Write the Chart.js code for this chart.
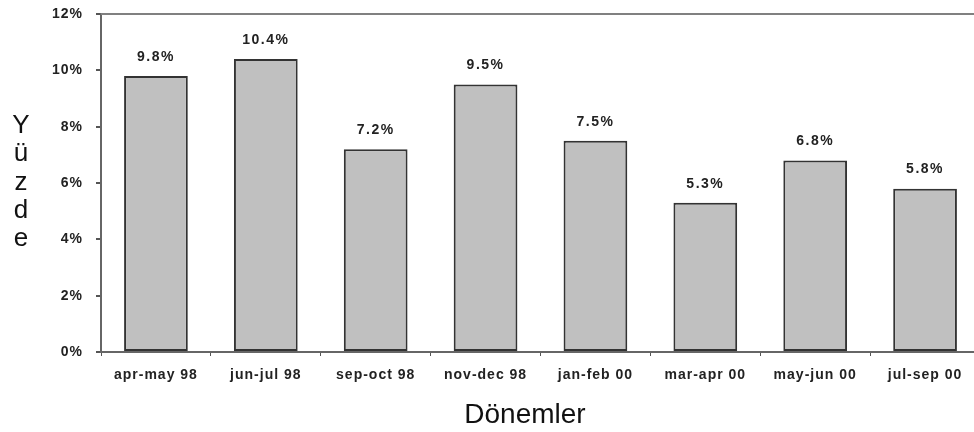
<!DOCTYPE html>
<html>
<head>
<meta charset="utf-8">
<script src="https://cdn.jsdelivr.net/npm/chart.js@4/dist/chart.umd.min.js"></script>
<style>
  html, body { margin: 0; padding: 0; background: #fff; overflow: hidden; }
  #wrap { position: relative; width: 1000px; height: 432px; }
</style>
</head>
<body>
<div id="wrap"><canvas id="donemChart"></canvas></div>
<script>
// Periods and their percentages
const periods = ["apr-may 98", "jun-jul 98", "sep-oct 98", "nov-dec 98", "jan-feb 00", "mar-apr 00", "may-jun 00", "jul-sep 00"];
const percentages = [9.8, 10.4, 7.2, 9.5, 7.5, 5.3, 6.8, 5.8];
const yTicks = [0, 2, 4, 6, 8, 10, 12];
const yTitle = "Yüzde";
const xTitle = "Dönemler";

const FONT = "Arial, 'Liberation Sans', sans-serif";

// slightly wider letter spacing for the tick labels
const spacingPlugin = {
  id: "spacingPlugin",
  beforeDraw(chart) { chart.ctx.letterSpacing = "1px"; }
};

// top edge of the plot frame
const framePlugin = {
  id: "framePlugin",
  beforeDatasetsDraw(chart) {
    const { ctx, chartArea } = chart;
    ctx.save();
    ctx.strokeStyle = "#808080";
    ctx.lineWidth = 2;
    ctx.beginPath();
    ctx.moveTo(chartArea.left, chartArea.top);
    ctx.lineTo(chartArea.right, chartArea.top);
    ctx.stroke();
    ctx.restore();
  }
};

// value labels above each bar + the two axis titles
const labelPlugin = {
  id: "labelPlugin",
  afterDatasetsDraw(chart) {
    const ctx = chart.ctx;
    const meta = chart.getDatasetMeta(0);
    ctx.save();
    ctx.letterSpacing = "1.5px";
    ctx.fillStyle = "#222";
    ctx.font = "bold 14px " + FONT;
    ctx.textAlign = "center";
    ctx.textBaseline = "middle";
    meta.data.forEach((bar, i) => {
      ctx.fillText(percentages[i].toFixed(1) + "%", bar.x, bar.y - 19);
    });

    // vertical stacked y title
    ctx.letterSpacing = "0px";
    ctx.font = "26px " + FONT;
    ctx.fillStyle = "#111";
    ctx.textBaseline = "alphabetic";
    Array.from(yTitle).forEach((ch, i) => {
      ctx.fillText(ch, 21, 133 + i * 28.3);
    });

    // x title
    ctx.font = "28px " + FONT;
    ctx.fillText(xTitle, chart.chartArea.left + 424, 423);
    ctx.restore();
  }
};

new Chart(document.getElementById("donemChart"), {
  type: "bar",
  data: {
    labels: periods,
    datasets: [{
      data: percentages,
      backgroundColor: "#c0c0c0",
      borderColor: "#333",
      borderWidth: 2,
      borderSkipped: false,
      barPercentage: 0.58,
      categoryPercentage: 1.0
    }]
  },
  options: {
    responsive: true,
    maintainAspectRatio: false,
    devicePixelRatio: 1,
    animation: false,
    layout: { padding: { top: 14, right: 20, left: 0, bottom: 0 } },
    plugins: {
      legend: { display: false },
      tooltip: { enabled: false }
    },
    scales: {
      x: {
        position: "bottom",
        grid: { display: true, drawOnChartArea: false, drawTicks: true, tickLength: 4, color: "#555", lineWidth: 1, offset: true },
        border: { display: true, color: "#666", width: 2 },
        ticks: { color: "#222", font: { family: FONT, size: 14, weight: "bold" }, padding: 11, maxRotation: 0, autoSkip: false },
        afterFit(scale) { scale.height = 80; }
      },
      y: {
        min: 0,
        max: 12,
        afterBuildTicks(scale) { scale.ticks = yTicks.map(v => ({ value: v })); },
        grid: { display: true, drawOnChartArea: false, drawTicks: true, tickLength: 5, color: "#555", lineWidth: 2 },
        border: { display: true, color: "#666", width: 2 },
        ticks: {
          color: "#222",
          font: { family: FONT, size: 14, weight: "bold" },
          padding: 13,
          callback: v => v + "%"
        },
        afterFit(scale) {
          scale.width = 101;
          scale.paddingTop = 0;
          scale.paddingBottom = 0;
        }
      }
    }
  },
  plugins: [spacingPlugin, framePlugin, labelPlugin]
});
</script>
</body>
</html>
